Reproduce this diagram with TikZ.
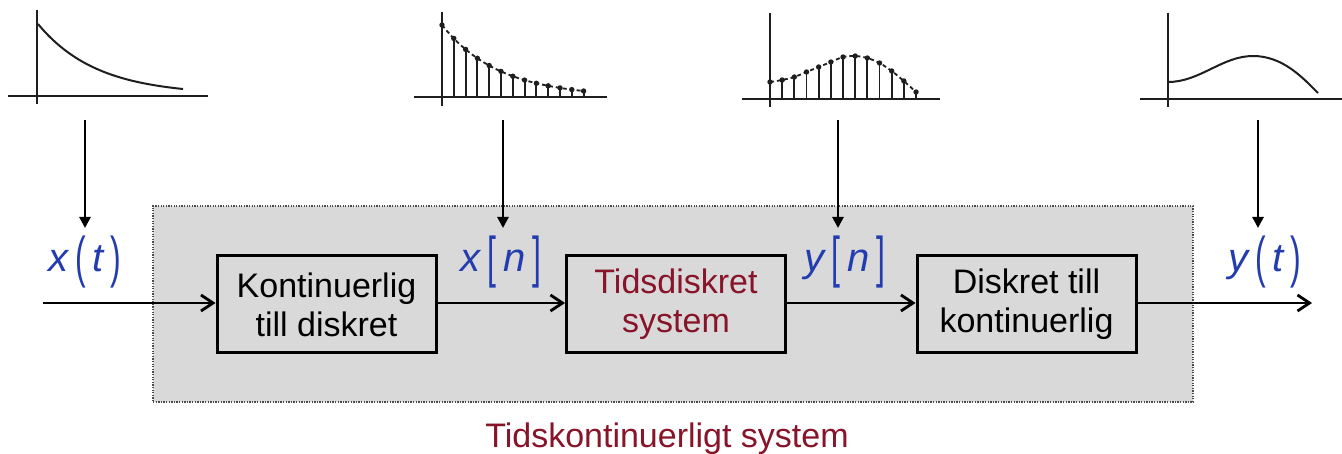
\documentclass[tikz,border=0pt]{standalone}
\usepackage{fontspec}
\setmainfont{Liberation Sans}
\usetikzlibrary{arrows.meta}
\definecolor{lblblue}{RGB}{35,60,175}
\definecolor{dred}{RGB}{135,20,40}
\definecolor{boxgray}{RGB}{217,217,217}
\definecolor{plotink}{RGB}{30,30,30}
\newcommand\tallch[1]{\raisebox{-5pt}{\upshape\scalebox{0.8}[1.4]{#1}}}
\tikzset{
  sysbox/.style={draw=black!70, fill=boxgray, line width=1.4pt, dash pattern=on 1.3pt off 1.3pt,
    minimum width=1040pt, minimum height=196pt, inner sep=0pt},
  blockbox/.style={draw=black, line width=3pt, fill=boxgray, minimum width=219pt, minimum height=97pt,
    align=center, inner sep=0pt, font=\fontsize{34}{39}\selectfont},
  lbl/.style={anchor=base, inner sep=0pt, text=lblblue, font=\fontsize{40}{48}\selectfont\itshape},
  flow/.style={line width=2.8pt, -{Straight Barb[length=12pt,width=16pt,line width=2.8pt]}},
  feed/.style={line width=2.6pt, -{Triangle[length=11pt,width=11pt]}},
  axis/.style={line width=2pt, plotink},
  curve/.style={line width=2pt, plotink},
  stem/.style={line width=1.9pt, plotink},
  dashcurve/.style={line width=1.8pt, plotink, dash pattern=on 4pt off 3pt},
}
\begin{document}
\begin{tikzpicture}[x=1pt,y=-1pt]
\useasboundingbox (0,0) rectangle (1342,454);
\fill[white] (0,0) rectangle (1342,454);

% system box
\node[sysbox] (sys) at (673,304) {};
\node[anchor=base, inner sep=0pt, text=dred, font=\fontsize{34}{40}\selectfont] (syslbl) at (667,447) {Tidskontinuerligt system};

% blocks
\node[blockbox] (b1) at (326.5,304.5) {Kontinuerlig\\till diskret};
\node[blockbox, text=dred] (b2) at (676,304.5) {Tidsdiskret\\system};
\node[blockbox] (b3) at (1026.5,304.5) {Diskret till\\kontinuerlig};

% main flow
\coordinate (in) at (43,303);
\coordinate (out) at (1312,303);
\draw[flow] (in) -- (in -| b1.west);
\draw[flow] (b1.east |- 0,303) -- (b2.west |- 0,303);
\draw[flow] (b2.east |- 0,303) -- (b3.west |- 0,303);
\draw[flow] (b3.east |- 0,303) -- (out);

% labels
\node[lbl] (lxt) at (85,272) {x\,\tallch{(}\,t\,\tallch{)}};
\node[lbl] (lxn) at (501,272) {x\,\tallch{[}\,n\,\tallch{]}};
\node[lbl] (lyn) at (845,272) {y\,\tallch{[}\,n\,\tallch{]}};
\node[lbl] (lyt) at (1265,272) {y\,\tallch{(}\,t\,\tallch{)}};

% feed arrows
\coordinate (f1s) at (85,120);  \coordinate (f1e) at (85,228);
\coordinate (f2s) at (503,120); \coordinate (f2e) at (503,228);
\coordinate (f3s) at (838,120); \coordinate (f3e) at (838,228);
\coordinate (f4s) at (1258,120); \coordinate (f4e) at (1258,228);
\draw[feed] (f1s) -- (f1e);
\draw[feed] (f2s) -- (f2e);
\draw[feed] (f3s) -- (f3e);
\draw[feed] (f4s) -- (f4e);

% plot 1: continuous decaying exponential
\draw[axis] (37,10) -- (37,104);
\draw[axis] (8,96) -- (208,96);
\draw[curve] plot[domain=38:183, samples=50, smooth] (\x, {95-71*exp(-(\x-38)/58.7)});

% plot 2: sampled decaying exponential
\draw[axis] (442,12) -- (442,106);
\draw[axis] (414,97) -- (607,97);
\draw[dashcurve] plot[domain=442:584, samples=40, smooth] (\x, {97-72*exp(-(\x-442)/57)});
\foreach \k in {0,...,12}{
  \pgfmathsetmacro\xx{442+11.8*\k}
  \pgfmathsetmacro\yy{97-72*exp(-\k*11.8/57)}
  \draw[stem] (\xx,97) -- (\xx,\yy);
  \fill[plotink] (\xx,\yy) circle (2.7);
}

% plot 3: sampled output
\draw[axis] (770,13) -- (770,107);
\draw[axis] (742,99) -- (940,99);
\draw[dashcurve] plot[smooth] coordinates {(770,82) (782.2,80) (794.3,77) (806.5,72) (818.7,67) (830.8,62) (843,57) (855.2,56) (867.3,58) (879.5,63) (891.7,71) (903.8,81) (916,92)};
\foreach \k/\yy in {0/82,1/80,2/77,3/72,4/67,5/62,6/57,7/56,8/58,9/63,10/71,11/81,12/92}{
  \pgfmathsetmacro\xx{770+12.17*\k}
  \draw[stem] (\xx,99) -- (\xx,\yy);
  \fill[plotink] (\xx,\yy) circle (2.7);
}

% plot 4: continuous output
\draw[axis] (1168,13) -- (1168,107);
\draw[axis] (1140,99) -- (1342,99);
\draw[curve] (1168,82) .. controls (1200,82) and (1222,56) .. (1253,56) .. controls (1283,56) and (1303,78) .. (1318,93);
\end{tikzpicture}
\end{document}
